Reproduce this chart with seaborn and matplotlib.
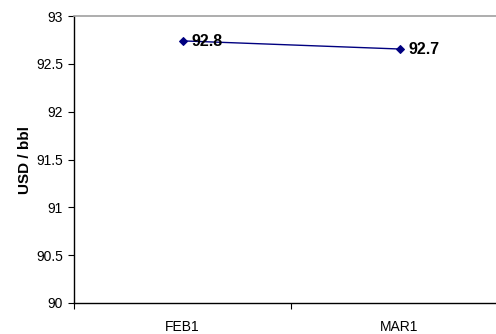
import matplotlib
matplotlib.use("Agg")
import matplotlib.pyplot as plt
import seaborn as sns
import pandas as pd

months = ["FEB1", "MAR1"]
prices = [92.74, 92.655]
labels = ["92.8", "92.7"]
y_ticks = [90, 90.5, 91, 91.5, 92, 92.5, 93]
y_tick_labels = ["90", "90.5", "91", "91.5", "92", "92.5", "93"]

sns.set_theme(style="white")
plt.rcParams['font.family'] = ['Liberation Sans', 'DejaVu Sans']
plt.rcParams.update({"text.color": "black", "axes.labelcolor": "black",
                     "xtick.color": "black", "ytick.color": "black"})

W, H = 496, 334
fig = plt.figure(figsize=(W / 100, H / 100), dpi=100)
left, right, top, bottom = 74, 508, 16, 303
ax = fig.add_axes([left / W, 1 - bottom / H, (right - left) / W, (bottom - top) / H])

df = pd.DataFrame({"month": months, "price": prices})
sns.lineplot(data=df, x="month", y="price", ax=ax, color="#000080", marker="D",
             markersize=4.5, markeredgecolor="#000080", linewidth=1.0, sort=False)

for i, (v, t) in enumerate(zip(prices, labels)):
    ax.annotate(t, (i, v), xytext=(6.5, -0.5), textcoords="offset points",
                ha="left", va="center", fontsize=11.5, fontweight="bold", color="black")

ax.set_xlim(-0.5, 1.5)
ax.set_ylim(90, 93)
ax.set_yticks(y_ticks)
ax.set_yticklabels(y_tick_labels, fontsize=10)
ax.set_xticks([0, 1])
ax.set_xticklabels(months, fontsize=10)
ax.set_xticks([-0.5, 0.5, 1.5], minor=True)
ax.tick_params(axis="x", which="major", length=0, pad=12)
ax.tick_params(axis="x", which="minor", length=4, width=0.8, color="black", direction="out", bottom=True)
ax.tick_params(axis="y", which="major", length=4, width=0.8, color="black", direction="out", left=True, pad=4)
ax.set_xlabel("")
ax.set_ylabel("USD / bbl", fontsize=11, fontweight="bold", labelpad=2.5)

for s in ["left", "bottom"]:
    ax.spines[s].set_color("black")
    ax.spines[s].set_linewidth(1.0)
ax.spines["top"].set_color("#a0a0a0")
ax.spines["top"].set_linewidth(1.2)
ax.spines["right"].set_visible(False)
ax.grid(False)

fig.savefig("out.png", dpi=100)
